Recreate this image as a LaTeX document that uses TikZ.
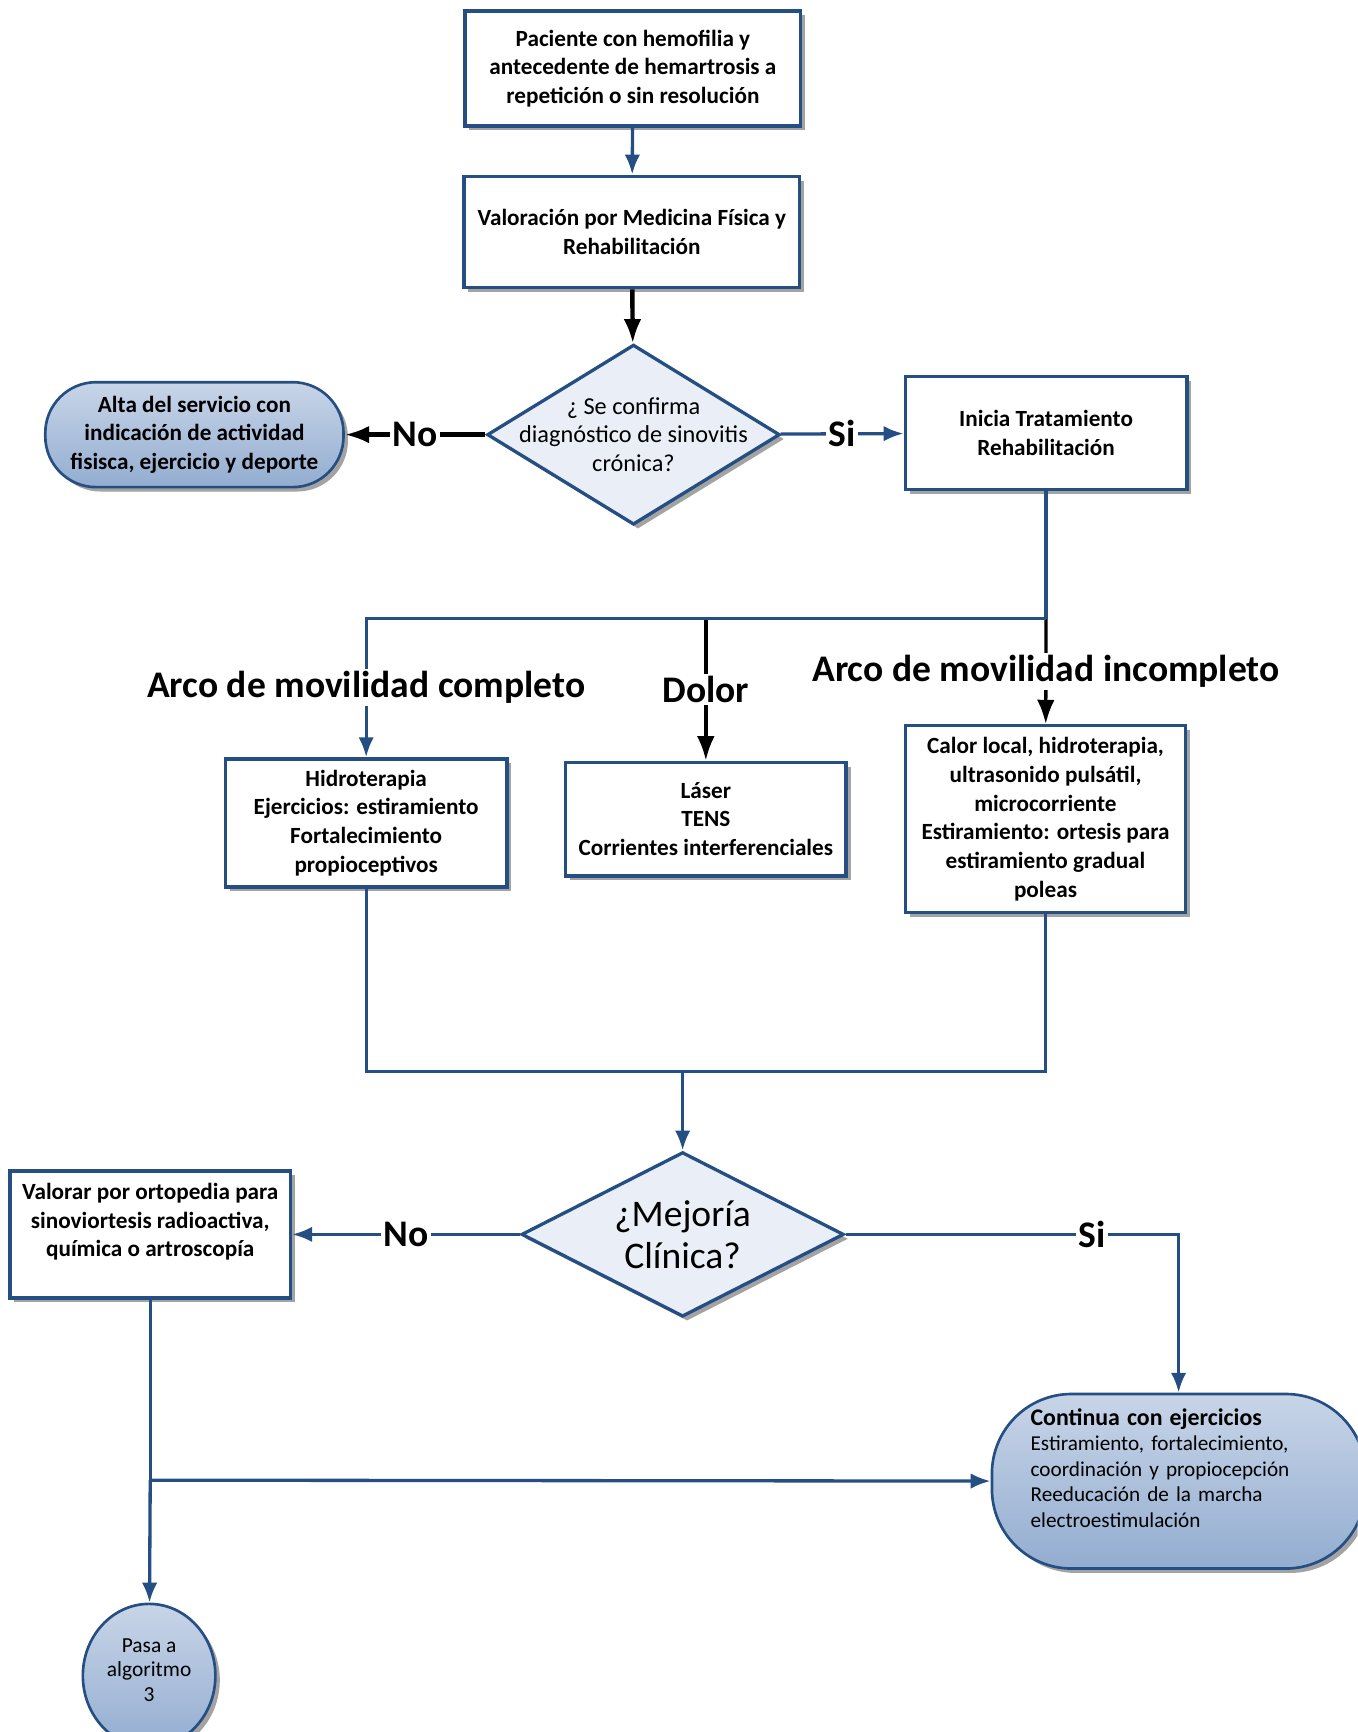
\documentclass[tikz,border=0pt]{standalone}
\usepackage{fontspec}
\setmainfont{Carlito}
\usepackage{xcolor}
\usepackage{tikz}
\usetikzlibrary{shapes.geometric,shadows,arrows.meta}
\definecolor{line-blue}{RGB}{37, 78,131}
\definecolor{pill-top}{RGB}{200,213,232}
\definecolor{pill-bot}{RGB}{147,173,208}
\definecolor{choice-fill}{RGB}{234,239,247}
\tikzstyle{cast}=[drop shadow={shadow xshift=2pt,shadow yshift=-2pt,fill=black!45,opacity=.8}]
\tikzstyle{box}=[rectangle,draw=line-blue,line width=1.5pt,fill=white,cast,align=center,font=\fontsize{10.5}{13}\selectfont\bfseries]
\tikzstyle{pill}=[rectangle,rounded corners=23pt,draw=line-blue,line width=1.2pt,top color=pill-top,bottom color=pill-bot,cast,align=center,font=\fontsize{10.5}{13}\selectfont\bfseries]
\tikzstyle{choice}=[diamond,draw=line-blue,line width=1.5pt,fill=choice-fill,cast,inner sep=0pt]
\tikzstyle{tag}=[fill=white,text=black,inner sep=1pt,font=\fontsize{17}{20}\selectfont\bfseries]
\tikzstyle{e}=[line-blue,line width=1.5pt,arrows={-{Latex[length=9pt,width=7pt]}}]
\tikzstyle{e-black}=[black,line width=2pt,arrows={-{Latex[length=11pt,width=8pt]}}]
\tikzstyle{e-thin}=[black,line width=1.5pt,arrows={-{Latex[length=11pt,width=8pt]}}]
\tikzstyle{line}=[line-blue,line width=1.5pt]

\begin{document}
\begin{tikzpicture}[x=0.5pt,y=-0.5pt]
\useasboundingbox (0,0) rectangle (1229,1568);
\clip (0,0) rectangle (1229,1568);

% Nodes
\node[box,minimum width=152pt,minimum height=52pt]   (paciente)   at (573,62)    {Paciente con hemofilia y\\antecedente de hemartrosis a\\repetición o sin resolución};
\node[box,minimum width=152pt,minimum height=50.5pt] (valoracion) at (572,210)   {Valoración por Medicina Física y\\Rehabilitación};
\node[choice,minimum width=132.5pt,minimum height=81.5pt,
      label={[align=center,font=\fontsize{11}{12.75}\selectfont]center:¿ Se confirma\\diagnóstico de sinovitis\\crónica?}]
                                                     (confirma)   at (573.5,393.5) {};
\node[pill,minimum width=135pt,minimum height=47.5pt] (alta)      at (176,393.5) {Alta del servicio con\\indicación de actividad\\fisisca, ejercicio y deporte};
\node[box,minimum width=127.5pt,minimum height=51pt] (inicia)     at (947,392)   {Inicia Tratamiento\\Rehabilitación};
\node[box,minimum width=127.5pt,minimum height=58pt] (hidro)      at (331.5,745) {Hidroterapia\\Ejercicios: estiramiento\\Fortalecimiento\\propioceptivos};
\node[box,minimum width=127pt,minimum height=51.5pt] (laser)      at (639,741.5) {Láser\\TENS\\Corrientes interferenciales};
\node[box,minimum width=126.5pt,minimum height=84.5pt] (calor)    at (946.5,741.5) {Calor local, hidroterapia,\\ultrasonido pulsátil,\\microcorriente\\Estiramiento: ortesis para\\estiramiento gradual\\poleas};
\node[choice,minimum width=146pt,minimum height=74.5pt,
      label={[align=center,font=\fontsize{17}{19}\selectfont]center:¿Mejoría\\Clínica?}]
                                                     (mejoria)    at (618,1117.5) {};
\node[box,minimum width=127pt,minimum height=57.5pt] (ortopedia)  at (136,1117.5) {Valorar por ortopedia para\\sinoviortesis radioactiva,\\química o artroscopía\\~};
\node[pill,rounded corners=36pt,minimum width=169pt,minimum height=79pt,
      label={[align=left,text width=128pt,xshift=-3pt,yshift=6pt,font=\fontsize{9.6}{11.5}\selectfont]center:{\fontsize{10.8}{12}\selectfont\bfseries Continua con ejercicios}\\Estiramiento, fortalecimiento,\\coordinación y propiocepción\\Reeducación de la marcha\\electroestimulación}]
                                                     (continua)   at (1067,1341) {};
\node[ellipse,draw=line-blue,line width=1.2pt,top color=pill-top,bottom color=pill-bot,cast,
      minimum width=60pt,minimum height=65pt,align=center,font=\fontsize{9.7}{11.25}\selectfont,
      label={[align=center,font=\fontsize{9.7}{11.25}\selectfont,yshift=2.5pt]center:Pasa a\\algoritmo\\3}]
                                                     (algoritmo)  at (135,1517) {};

\coordinate (fork)       at (947,560);
\coordinate (fork-dolor) at (639,560);
\coordinate (join)       at (618,970);
\coordinate (split)      at (136,1340);

% Edges
\draw (paciente)   edge[e]       (valoracion)
      (valoracion) edge[e-black] (confirma)
      (confirma)   edge[e-black] node[tag] {No} (alta)
      (confirma)   edge[e]       node[tag] {Si} (inicia)
      (fork-dolor) edge[e-thin]  node[tag] {Dolor} (laser)
      (fork)       edge[e-thin]  node[tag] {Arco de movilidad incompleto} (calor)
      (join)       edge[e]       (mejoria)
      (mejoria)    edge[e]       node[tag] {No} (ortopedia)
      (split)      edge[e]       (continua)
      (split)      edge[e]       (algoritmo);

\draw[line] (inicia) -- (fork);
\draw[e] (fork) -| node[tag,pos=.748] {Arco de movilidad completo} (hidro);
\draw[line] (hidro) |- (join) -| (calor);
\draw[e] (mejoria) -| node[tag,pos=.37] {Si} (continua);
\draw[line] (ortopedia) -- (split);

\end{tikzpicture}
\end{document}
